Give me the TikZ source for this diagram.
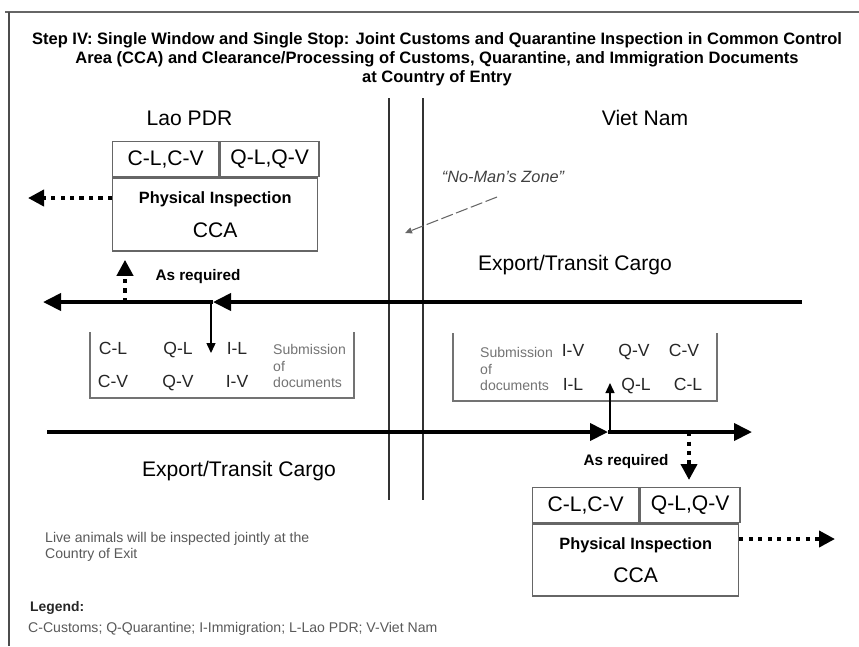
\documentclass[tikz,border=0pt]{standalone}
\usepackage{fontspec}
\setmainfont{Liberation Sans}
\usetikzlibrary{positioning,arrows.meta}

\begin{document}
\begin{tikzpicture}[
    lbl/.style={font=\fontsize{12}{14}\selectfont},
    cell/.style={draw=black!60, line width=0.8pt, inner sep=0pt, anchor=north west,
                 align=center, font=\fontsize{12}{14}\selectfont},
    code/.style={font=\fontsize{10}{12}\selectfont, text=black!85, text height=0.75em, text depth=0.2em},
    subm/.style={font=\fontsize{8}{9.6}\selectfont, text=black!55, align=left, anchor=west},
    req/.style={font=\bfseries\fontsize{8.7}{10}\selectfont},
    note/.style={font=\fontsize{8}{9.2}\selectfont, text=black!65, align=left, anchor=west},
    docbox/.style={draw=black!55, line width=0.8pt},
    zone/.style={draw=black!80, line width=1.1pt},
    bigarr/.style={-{Triangle[length=0.36cm,width=0.34cm]}, line width=2.2pt},
    dotarr/.style={-{Triangle[length=0.32cm,width=0.32cm]}, line width=2.2pt,
                   dash pattern=on 2.3pt off 3.1pt},
    thinarr/.style={-{Triangle[length=0.2cm,width=0.18cm]}, line width=0.8pt},
    nmzarr/.style={-{Triangle[length=0.14cm,width=0.12cm]}, draw=black!60, line width=0.6pt,
                   dash pattern=on 7pt off 2pt}
  ]
  \useasboundingbox (0,0) rectangle (17.18,-12.92);

  % frame
  \draw[black!60, line width=1.2pt] (0.1,-0.24) -- (17.18,-0.24);
  \draw[black!70, line width=1.2pt] (0.18,-0.24) -- (0.18,-12.92);

  \node[font=\bfseries\fontsize{9.4}{10.8}\selectfont, align=center] (title) at (8.74,-1.18)
    {Step IV: Single Window and Single Stop: Joint Customs and Quarantine Inspection in Common Control\\
     Area (CCA) and Clearance/Processing of Customs, Quarantine, and Immigration Documents\\
     at Country of Entry};

  \node[lbl] (lao) at (3.79,-2.36) {Lao PDR};
  \node[lbl] (vn)  at (12.9,-2.36) {Viet Nam};

  % no-man's zone
  \draw[zone] (7.78,-1.96) -- (7.78,-10.0);
  \draw[zone] (8.46,-1.96) -- (8.46,-10.0);
  \node[font=\itshape\fontsize{9.3}{11}\selectfont, text=black!75] (nmz) at (10.06,-3.54) {``No-Man's Zone''};
  \coordinate (nmzs) at (9.94,-3.94);
  \coordinate (nmzt) at (8.1,-4.66);
  \draw[nmzarr] (nmzs) -- (nmzt);

  % CCA Lao PDR
  \node[cell, minimum width=2.12cm, minimum height=0.7cm] (lcv) at (2.24,-2.82) {C-L,C-V};
  \node[cell, minimum width=1.98cm, minimum height=0.7cm] (lqv) at (lcv.north east) {Q-L,Q-V};
  \node[cell, minimum width=4.1cm, minimum height=1.46cm] (lpi) at (lcv.south west)
    {{\bfseries\fontsize{9.3}{11}\selectfont Physical Inspection}\\[5pt]CCA};

  % CCA Viet Nam
  \node[cell, minimum width=2.12cm, minimum height=0.7cm] (rcv) at (10.64,-9.74) {C-L,C-V};
  \node[cell, minimum width=2.0cm, minimum height=0.7cm] (rqv) at (rcv.north east) {Q-L,Q-V};
  \node[cell, minimum width=4.12cm, minimum height=1.44cm] (rpi) at (rcv.south west)
    {{\bfseries\fontsize{9.3}{11}\selectfont Physical Inspection}\\[5pt]CCA};

  % submission of documents
  \draw[docbox] (1.8,-6.64) -- (1.8,-7.96) -- (7.08,-7.96) -- (7.08,-6.64);
  \node[code] (lcl) at (2.26,-7.0)  {C-L};
  \node[code] (lql) at (3.56,-7.0)  {Q-L};
  \node[code] (lil) at (4.74,-7.0)  {I-L};
  \node[code] (lcv2) at (2.26,-7.66) {C-V};
  \node[code] (lqv2) at (3.56,-7.66) {Q-V};
  \node[code] (liv) at (4.74,-7.66) {I-V};
  \node[subm] (lsub) at (5.34,-7.32) {Submission\\of\\documents};

  \draw[docbox] (9.06,-6.66) -- (9.06,-8.02) -- (14.34,-8.02) -- (14.34,-6.66);
  \node[subm] (rsub) at (9.48,-7.38) {Submission\\of\\documents};
  \node[code] (riv) at (11.46,-7.04) {I-V};
  \node[code] (rqv2) at (12.68,-7.04) {Q-V};
  \node[code] (rcv2) at (13.68,-7.04) {C-V};
  \node[code] (ril) at (11.46,-7.72) {I-L};
  \node[code] (rql) at (12.72,-7.72) {Q-L};
  \node[code] (rcl) at (13.76,-7.72) {C-L};

  % cargo flows
  \coordinate (ur) at (16.04,-6.04);
  \coordinate (um) at (4.26,-6.04);
  \coordinate (ul) at (0.86,-6.04);
  \draw[bigarr] (ur) -- (um);
  \draw[bigarr] (um) -- (ul);
  \coordinate (ldoc) at (4.22,-7.06);
  \draw[thinarr] (ldoc |- um) -- (ldoc);

  \coordinate (ll) at (0.94,-8.64);
  \coordinate (lm) at (12.16,-8.64);
  \coordinate (lr) at (15.04,-8.64);
  \draw[bigarr] (ll) -- (lm);
  \draw[bigarr] (lm) -- (lr);
  \coordinate (rdoc) at (12.2,-7.66);
  \draw[thinarr] (rdoc |- lm) -- (rdoc);

  \node[lbl] (ucargo) at (11.5,-5.3) {Export/Transit Cargo};
  \node[lbl] (lcargo) at (4.78,-9.42) {Export/Transit Cargo};

  % as required
  \coordinate (lreq) at (2.5,-6.04);
  \draw[dotarr, shorten >=0.16cm] (lreq) -- (lreq |- lpi.south);
  \node[req] (lreqt) at (3.96,-5.54) {As required};
  \coordinate (rreq) at (13.78,-8.64);
  \draw[dotarr, shorten >=0.14cm] (rreq) -- (rreq |- rcv.north);
  \node[req] (rreqt) at (12.52,-9.24) {As required};

  \coordinate (lexit) at (0.56,-3.96);
  \draw[dotarr] (lpi.west |- lexit) -- (lexit);
  \coordinate (rexit) at (16.7,-10.78);
  \draw[dotarr] (rpi.east |- rexit) -- (rexit);

  % notes
  \node[note] (live) at (0.78,-10.94) {Live animals will be inspected jointly at the\\Country of Exit};
  \node[font=\bfseries\fontsize{7.9}{9}\selectfont, text=black!85, anchor=west] (leg) at (0.48,-12.16) {Legend:};
  \node[note] (legtxt) at (0.44,-12.58) {C-Customs; Q-Quarantine; I-Immigration; L-Lao PDR; V-Viet Nam};
\end{tikzpicture}
\end{document}
